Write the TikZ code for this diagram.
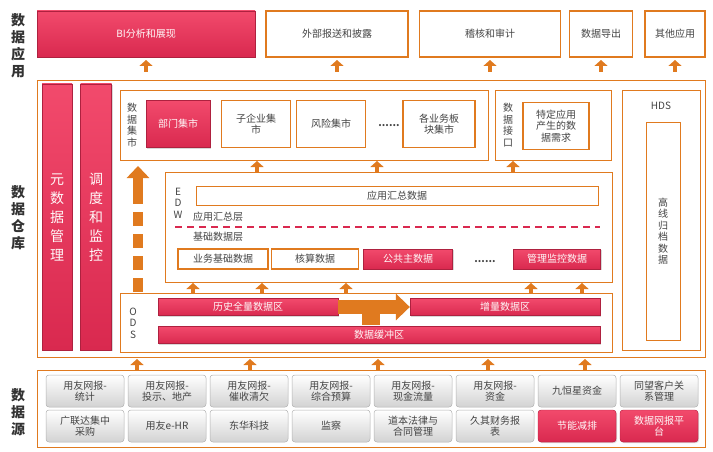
\documentclass[tikz,border=0pt]{standalone}
\usepackage{fontspec}
\setmainfont{Noto Sans CJK SC}
\usetikzlibrary{arrows.meta,shadows}
\definecolor{org}{HTML}{E07A1F}
\definecolor{rd}{HTML}{D9294F}
\definecolor{rdl}{HTML}{F24A6C}
\definecolor{tx}{HTML}{444444}
\tikzset{
 x=1pt,y=-1pt,
 every node/.style={font=\fontsize{10}{11.5}\selectfont, text=tx, align=center, inner sep=1pt},
 obox/.style={draw=org, line width=1.2pt, fill=white},
 rbox/.style={fill=rd, top color=rdl, bottom color=rd, draw=rd!80!black, line width=0.3pt, text=white!90!pink, drop shadow={opacity=0.3,shadow xshift=1pt,shadow yshift=-1pt}},
 gbox/.style={rounded corners=3pt, draw=gray!60, top color=white, bottom color=gray!35, line width=0.5pt},
 upar/.style={draw=org, line width=4pt, -{Triangle[width=13pt,length=6pt]}},
 side/.style={font=\fontsize{14}{17}\selectfont\bfseries, text=black!80},
}
\begin{document}
\begin{tikzpicture}
\useasboundingbox (0,0) rectangle (713,452);
% side labels
\node[side] (l1) at (18,46) {数\\据\\应\\用};
\node[side] (l2) at (18,218) {数\\据\\仓\\库};
\node[side] (l3) at (18,412) {数\\据\\源};
% app row
\node[rbox, minimum width=218, minimum height=46] (bi) at (146,34) {BI分析和展现};
\node[obox, minimum width=142, minimum height=46] (wb) at (337,34) {外部报送和披露};
\node[obox, minimum width=141, minimum height=46] (jh) at (490,34) {稽核和审计};
\node[obox, minimum width=63, minimum height=46] (dc) at (601,34) {数据导出};
\node[obox, minimum width=60, minimum height=46] (qt) at (675,34) {其他应用};
\foreach \x in {146,337,490,601,675}{\draw[upar] (\x,72) -- (\x,60);}
% warehouse
\node[obox, minimum width=668, minimum height=277, anchor=north west] (wh) at (37,80) {};
\node[rbox, minimum width=30, minimum height=266, font=\fontsize{14}{19}\selectfont] (meta) at (57,217) {元\\数\\据\\管\\理};
\node[rbox, minimum width=31, minimum height=266, font=\fontsize{14}{19}\selectfont] (ddjk) at (96,217) {调\\度\\和\\监\\控};
% data mart
\node[obox, minimum width=368, minimum height=70, anchor=north west] (mart) at (120,90) {};
\node (martl) at (132,125) {数\\据\\集\\市};
\node[rbox, minimum width=64, minimum height=47] (bm) at (178,124) {部门集市};
\node[obox, minimum width=69, minimum height=47] (zq) at (256,124) {子企业集\\市};
\node[obox, minimum width=69, minimum height=47] (fx) at (331,124) {风险集市};
\node (dots1) at (389,126) {\textbf{......}};
\node[obox, minimum width=72, minimum height=47] (gy) at (439,124) {各业务板\\块集市};
% interface
\node[obox, minimum width=116, minimum height=70, anchor=north west] (intf) at (495,90) {};
\node (intfl) at (508,125) {数\\据\\接\\口};
\node[obox, minimum width=66, minimum height=47] (td) at (556,126) {特定应用\\产生的数\\据需求};
% HDS
\node[obox, minimum width=78, minimum height=260, anchor=north west] (hds) at (622,90) {};
\node (hdsl) at (661,106) {HDS};
\node[obox, minimum width=34, minimum height=218, anchor=north west] (gx) at (646,122) {};
\node (gxt) at (663,231) {高\\线\\归\\档\\数\\据};
% arrows to mart
\foreach \x in {257,377,513}{\draw[upar] (\x,172) -- (\x,161);}
% dashed big up arrow
\foreach \y in {278,256,234,212,190}{\fill[org] (133,\y) rectangle (143,\y+14);}
\draw[upar, line width=10pt, -{Triangle[width=22pt,length=12pt]}] (138,190) -- (138,166);
% EDW
\node[obox, minimum width=447, minimum height=110, anchor=north west] (edw) at (165,172) {};
\node (edwl) at (178,203) {E\\D\\W};
\node[obox, minimum width=402, minimum height=19, anchor=north west] (yyhz) at (196,186) {};
\node at (397,195.5) {应用汇总数据};
\node[anchor=west] (hzc) at (192,217) {应用汇总层};
\draw[rd, dashed, dash pattern=on 7pt off 5pt, line width=1.3pt] (175,227) -- (600,227);
\node[anchor=west] (jcc) at (192,237) {基础数据层};
\node[obox, minimum width=90, minimum height=20] (ywjc) at (223,259) {业务基础数据};
\node[obox, minimum width=87, minimum height=20] (hs) at (315,259) {核算数据};
\node[rbox, minimum width=89, minimum height=20] (gg) at (408,259) {公共主数据};
\node (dots2) at (485,262) {\textbf{......}};
\node[rbox, minimum width=87, minimum height=20] (gl) at (557,259) {管理监控数据};
\foreach \x in {193,262,346,531,582}{\draw[upar] (\x,294) -- (\x,283);}
% ODS
\node[obox, minimum width=492, minimum height=59, anchor=north west] (ods) at (120,293) {};
\node (odsl) at (133,323) {O\\D\\S};
\node[rbox, minimum width=180, minimum height=17] (ls) at (248,307) {历史全量数据区};
\node[rbox, minimum width=190, minimum height=17] (zl) at (505,307) {增量数据区};
\node[rbox, minimum width=442, minimum height=17] (hc) at (379,335) {数据缓冲区};
\draw[org, line width=14pt, -{Triangle[width=26pt,length=14pt]}] (ls.east) -- (zl.west);
\fill[org] (362,307) rectangle (380,325);
% source arrows
\foreach \x in {137,250,378,488,585}{\draw[upar] (\x,371) -- (\x,359);}
% sources
\node[obox, minimum width=668, minimum height=77, anchor=north west] (src) at (37,370) {};
\foreach \t [count=\i from 0] in {用友网报-\\统计,用友网报-\\投示、地产,用友网报-\\催收清欠,用友网报-\\综合预算,用友网报-\\现金流量,用友网报-\\资金,九恒星资金,同望客户关\\系管理}{
  \node[gbox, minimum width=78, minimum height=32] (s1\i) at (85+82*\i,391) {\t};}
\foreach \t [count=\i from 0] in {广联达集中\\采购,用友e-HR,东华科技,监察,道本法律与\\合同管理,久其财务报\\表}{
  \node[gbox, minimum width=78, minimum height=32] (s2\i) at (85+82*\i,426) {\t};}
\node[rbox, rounded corners=3pt, minimum width=78, minimum height=32] (s26) at (577,426) {节能减排};
\node[rbox, rounded corners=3pt, minimum width=78, minimum height=32] (s27) at (659,426) {数据网报平\\台};
\end{tikzpicture}
\end{document}
